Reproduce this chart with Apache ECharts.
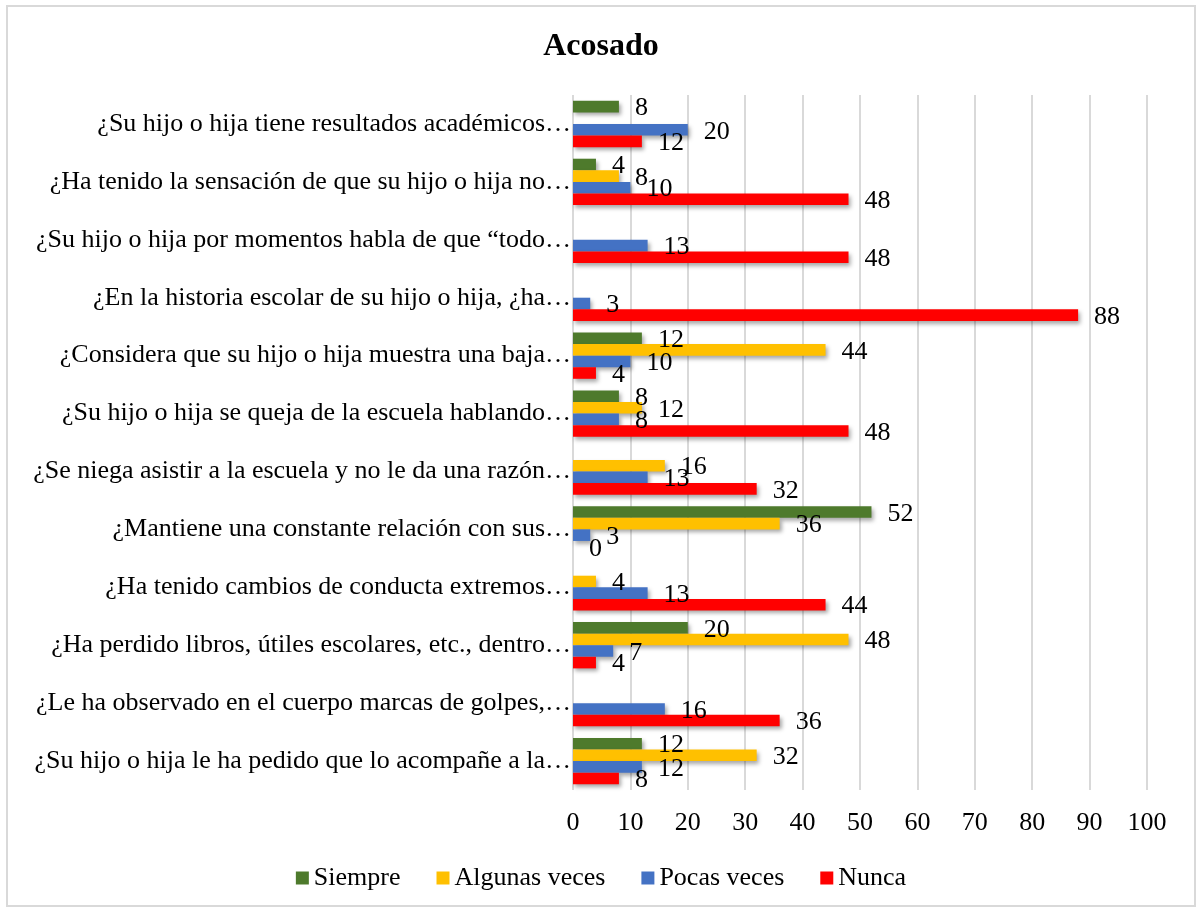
<!DOCTYPE html>
<html>
<head>
<meta charset="utf-8">
<script src="https://cdn.jsdelivr.net/npm/echarts@6/dist/echarts.min.js"></script>
<style>
html,body{margin:0;padding:0;background:#fff;}
#frame{position:absolute;left:6px;top:5px;width:1186px;height:898px;border:2px solid #d9d9d9;}
#chart{position:absolute;left:0;top:0;width:1202px;height:911px;}
</style>
</head>
<body>
<div id="frame"></div>
<div id="chart"></div>
<script>
const categories = [
  "¿Su hijo o hija tiene resultados académicos…",
  "¿Ha tenido la sensación de que su hijo o hija no…",
  "¿Su hijo o hija por momentos habla de que “todo…",
  "¿En la historia escolar de su hijo o hija, ¿ha…",
  "¿Considera que su hijo o hija muestra una baja…",
  "¿Su hijo o hija se queja de la escuela hablando…",
  "¿Se niega asistir a la escuela y no le da una razón…",
  "¿Mantiene una constante relación con sus…",
  "¿Ha tenido cambios de conducta extremos…",
  "¿Ha perdido libros, útiles escolares, etc., dentro…",
  "¿Le ha observado en el cuerpo marcas de golpes,…",
  "¿Su hijo o hija le ha pedido que lo acompañe a la…"
];
const seriesNames = ["Siempre", "Algunas veces", "Pocas veces", "Nunca"];
const siempre      = [8, 4, null, null, 12, 8, null, 52, null, 20, null, 12];
const algunasVeces = [null, 8, null, null, 44, 12, 16, 36, 4, 48, null, 32];
const pocasVeces   = [20, 10, 13, 3, 10, 8, 13, 3, 13, 7, 16, 12];
const nunca        = [12, 48, 48, 88, 4, 48, 32, 0, 44, 4, 36, 8];
const xTicks = [0, 10, 20, 30, 40, 50, 60, 70, 80, 90, 100];

const colors = ["#4e7a2c", "#ffc000", "#4472c4", "#ff0000"];
const FONT = "'Liberation Serif', 'DejaVu Serif', serif";
const values = [siempre, algunasVeces, pocasVeces, nunca];

const chart = echarts.init(document.getElementById('chart'), null, {renderer: 'canvas'});
const series = seriesNames.map((name, i) => ({
  name: name,
  type: 'bar',
  data: values[i],
  barGap: '0%',
  barCategoryGap: '20%',
  itemStyle: {
    color: colors[i],
    shadowColor: 'rgba(0,0,0,0.35)',
    shadowBlur: 4,
    shadowOffsetX: 2,
    shadowOffsetY: 3
  },
  label: {
    show: true,
    position: 'right',
    distance: 16,
    color: '#000',
    fontFamily: FONT,
    fontSize: 26,
    offset: [0, 2],
    formatter: p => (p.value === null || p.value === undefined) ? '' : String(p.value)
  },
  emphasis: {disabled: true}
}));

chart.setOption({
  animation: false,
  title: {
    text: 'Acosado',
    left: 'center',
    top: 26,
    textStyle: {fontFamily: FONT, fontSize: 32, fontWeight: 'bold', color: '#000'}
  },
  legend: {
    data: seriesNames,
    top: 860,
    left: 'center',
    itemWidth: 13,
    itemHeight: 13,
    itemGap: 36,
    icon: 'rect',
    textStyle: {fontFamily: FONT, fontSize: 26, color: '#000'}
  },
  grid: {left: 573, right: 55, top: 95, bottom: 121, containLabel: false},
  xAxis: {
    type: 'value',
    min: xTicks[0],
    max: xTicks[xTicks.length - 1],
    interval: 10,
    axisLine: {show: false},
    axisTick: {show: false},
    splitLine: {show: true, lineStyle: {color: '#d9d9d9', width: 2}},
    axisLabel: {fontFamily: FONT, fontSize: 26, color: '#000', margin: 20}
  },
  yAxis: {
    type: 'category',
    data: categories,
    inverse: true,
    axisLine: {show: false},
    axisTick: {show: false},
    axisLabel: {fontFamily: FONT, fontSize: 26, color: '#000', margin: 2}
  },
  series: series
});
</script>
</body>
</html>
